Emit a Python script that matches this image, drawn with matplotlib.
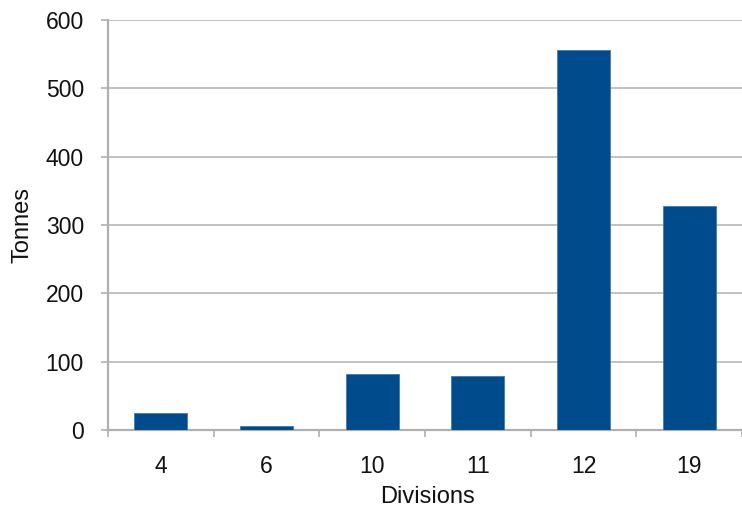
import matplotlib
matplotlib.use("Agg")
import matplotlib.pyplot as plt
import numpy as np

divisions = ["4", "6", "10", "11", "12", "19"]
tonnes = [25, 6, 82, 79, 556, 328]
y_ticks = [0, 100, 200, 300, 400, 500, 600]

plt.rcParams["font.family"] = ["Liberation Sans", "DejaVu Sans"]

W, H = 742, 514
fig = plt.figure(figsize=(W / 100, H / 100), dpi=100)
# plot area in pixels: left 108, right edge of canvas, top 20, bottom 430
ax = fig.add_axes([108 / W, (H - 430) / H, (W - 108) / W, (430 - 20) / H])

x = np.arange(len(divisions))
ax.bar(x, tonnes, width=0.5, color="#004b8b", edgecolor="#3f7bb0",
       linewidth=0.6, zorder=3)

ax.set_ylim(0, 600)
ax.set_xlim(-0.5, 5.425)
ax.set_yticks(y_ticks)
ax.set_yticklabels([str(v) for v in y_ticks], fontsize=16.5, color="#111111")
ax.yaxis.grid(True, color="#c2c2c2", linewidth=1.4, zorder=0)

ax.set_xticks(x)
ax.set_xticklabels(divisions, fontsize=16.5, color="#111111")
ax.tick_params(axis="x", which="major", length=0, pad=18)
# category separators on the x axis
ax.set_xticks(np.arange(-0.5, len(divisions), 1.0), minor=True)
ax.tick_params(axis="x", which="minor", length=5, color="#b0b0b0", width=1.2)
ax.tick_params(axis="y", length=5, color="#b0b0b0", width=1.2, pad=12.3)

for side in ["top", "right"]:
    ax.spines[side].set_visible(False)
for side in ["left", "bottom"]:
    ax.spines[side].set_color("#b0b0b0")
    ax.spines[side].set_linewidth(1.6)

ax.set_ylabel("Tonnes", fontsize=17, color="#111111")
ax.yaxis.set_label_coords((22 - 108) / (W - 108), 0.5)
ax.yaxis.label.set_va("center")
ax.set_xlabel("Divisions", fontsize=17, color="#111111")
ax.xaxis.set_label_coords((428 - 108) / (W - 108), -(497 - 430) / (430 - 20))
ax.xaxis.label.set_va("center")

fig.savefig("out.png", dpi=100)
